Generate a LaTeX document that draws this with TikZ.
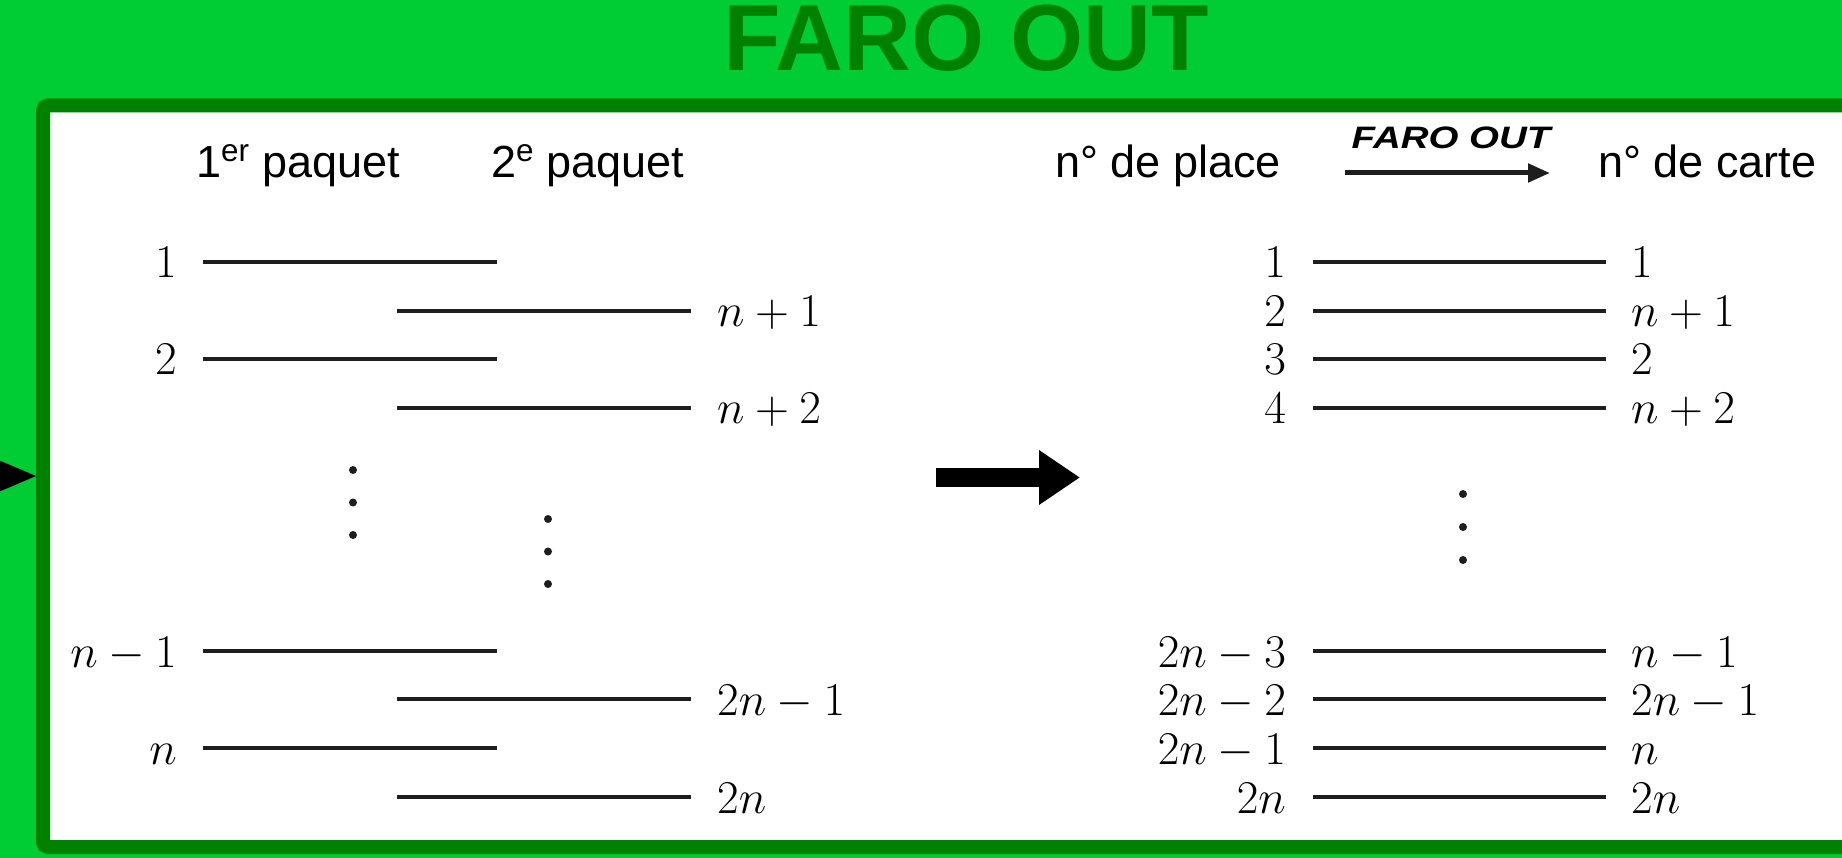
\RequirePackage{fix-cm}
\documentclass[tikz,border=0pt]{standalone}
\usepackage{fontspec}
\newfontfamily\arialfont{Liberation Sans}
\usetikzlibrary{arrows.meta, calc}
\definecolor{bggreen}{RGB}{0,204,51}
\definecolor{framegreen}{RGB}{0,128,0}
\definecolor{cardgray}{RGB}{30,30,30}
\tikzset{
  card/.style={
    draw=cardgray,
    line width=4pt
  },
  numl/.style={
    anchor=base east,
    inner sep=0pt,
    xshift=-27pt,
    yshift=-16pt,
    font=\fontsize{47}{47}\selectfont
  },
  numr/.style={
    anchor=base west,
    inner sep=0pt,
    xshift=25pt,
    yshift=-16pt,
    font=\fontsize{47}{47}\selectfont
  },
  head/.style={
    anchor=base west,
    inner sep=0pt,
    font=\arialfont\fontsize{45}{45}\selectfont
  },
  dot/.style={fill=cardgray},
  bigarrow/.style={draw=black, line width=19pt, -{Triangle[length=41pt, width=52pt]}},
  thinarrow/.style={draw=cardgray, line width=5pt, -{Triangle[length=22pt, width=18pt]}}
}

\begin{document}
\begin{tikzpicture}[x=1pt, y=-1pt]
  \useasboundingbox (0,0) rectangle (1842,858);
  \clip (0,0) rectangle (1842,858);
  \fill[bggreen] (0,0) rectangle (1842,858);
  \fill[black] (-4,459) -- (36,476) -- (-4,493) -- cycle;
  \draw[framegreen, line width=14pt, fill=white, rounded corners=5pt] (43,105.5) rectangle (1900,847);
  \node[anchor=base, text=framegreen, font=\arialfont\bfseries\fontsize{94}{94}\selectfont] (title) at (966,71) {FARO OUT};

  \node[head] (pq1) at (196,178) {1\textsuperscript{er} paquet};
  \node[head] (pq2) at (491,178) {2\textsuperscript{e} paquet};

  \foreach \y/\t [count=\i] in {262/1, 359/2, 651/n-1, 748/n} {
    \coordinate (la\i) at (203,\y);
    \coordinate (lb\i) at (497,\y);
    \draw[card] (la\i) -- (lb\i);
    \node[numl, xshift=1pt] (lnum\i) at (la\i) {$\t$};
  }
  \foreach \y/\t [count=\i] in {311/n+1, 408/n+2, 699/2n-1, 797/2n} {
    \coordinate (ra\i) at (397,\y);
    \coordinate (rb\i) at (691,\y);
    \draw[card] (ra\i) -- (rb\i);
    \node[numr, xshift=1pt] (rnum\i) at (rb\i) {$\t$};
  }
  \foreach \y in {470,502.5,535} \fill[dot] (353,\y) circle[radius=4pt];
  \foreach \y in {519,551.5,584} \fill[dot] (548,\y) circle[radius=4pt];

  \coordinate (arra) at (936,477.5);
  \coordinate (arrb) at (1080,477.5);
  \draw[bigarrow] (arra) -- (arrb);

  \node[head] (place) at (1055,178) {n° de place};
  \node[head] (carte) at (1598,178) {n° de carte};
  \draw[thinarrow, shorten <=64pt, shorten >=48pt] ([yshift=5pt]place.base east) -- ([yshift=5pt]carte.base west);
  \node[anchor=base, inner sep=0pt, font=\arialfont\bfseries\itshape\fontsize{31}{31}\selectfont] (faro) at (1451,149) {\scalebox{1.24}[1]{FARO OUT}};

  \foreach \y/\s/\t [count=\i] in {262/1/1, 311/2/n+1, 359/3/2, 408/4/n+2, 651/2n-3/n-1, 699/2n-2/2n-1, 748/2n-1/n, 797/2n/2n} {
    \coordinate (pa\i) at (1313,\y);
    \coordinate (pb\i) at (1606,\y);
    \draw[card] (pa\i) -- (pb\i);
    \node[numl] (pnum\i) at (pa\i) {$\s$};
    \node[numr] (cnum\i) at (pb\i) {$\t$};
  }
  \foreach \y in {494,527,560} \fill[dot] (1463,\y) circle[radius=4pt];
\end{tikzpicture}
\end{document}
